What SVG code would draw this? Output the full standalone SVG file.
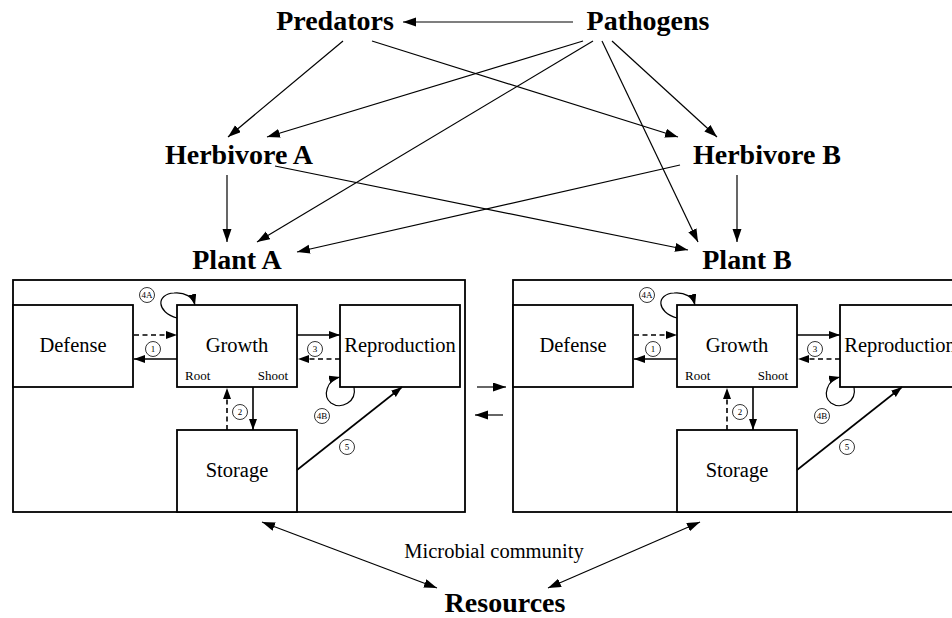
<svg xmlns="http://www.w3.org/2000/svg" width="952" height="618" viewBox="0 0 952 618">
<style>
.big{font-family:"Liberation Serif","Times New Roman",serif;font-weight:bold;font-size:28px;fill:#000;text-anchor:middle}
.lbl{font-family:"Liberation Serif","Times New Roman",serif;font-size:20.5px;fill:#000;text-anchor:middle}
.sm{font-family:"Liberation Serif","Times New Roman",serif;font-size:13px;fill:#000}
.num{font-family:"Liberation Serif","Times New Roman",serif;font-size:9px;fill:#000;text-anchor:middle}
.box{fill:#fff;stroke:#000;stroke-width:1.8}
.outer{fill:#fff;stroke:#000;stroke-width:1.8}
.top{fill:none;stroke:#000;stroke-width:1.2;marker-end:url(#ah)}
.dbl{fill:none;stroke:#000;stroke-width:1.2;marker-end:url(#ah);marker-start:url(#ah)}
.sol{fill:none;stroke:#000;stroke-width:1.6;marker-end:url(#as)}
.dash{fill:none;stroke:#000;stroke-width:1.6;stroke-dasharray:5,3.5;marker-end:url(#as)}
.cur{fill:none;stroke:#000;stroke-width:1.2;marker-end:url(#as)}
.circ{fill:#fff;stroke:#000;stroke-width:0.8}
</style>
<defs>
<marker id="ah" markerUnits="userSpaceOnUse" markerWidth="14" markerHeight="10" refX="13" refY="4.5" orient="auto-start-reverse" viewBox="0 0 14 10">
<path d="M0,0 L13,4.5 L0,9 z" fill="#000"/>
</marker>
<marker id="as" markerUnits="userSpaceOnUse" markerWidth="12" markerHeight="9" refX="11" refY="4" orient="auto-start-reverse" viewBox="0 0 12 9">
<path d="M0,0 L11,4 L0,8 z" fill="#000"/>
</marker>
</defs>
<rect width="952" height="618" fill="#fff"/>

<g id="connectors">
<line class="top" x1="573" y1="22" x2="403" y2="22"/>
<line class="top" x1="343" y1="41" x2="228" y2="137"/>
<line class="top" x1="372" y1="41" x2="678" y2="137"/>
<line class="top" x1="583" y1="41" x2="267" y2="137"/>
<line class="top" x1="593" y1="41" x2="257" y2="242"/>
<line class="top" x1="602" y1="41" x2="698" y2="242"/>
<line class="top" x1="612" y1="41" x2="717" y2="137"/>
<line class="top" x1="227" y1="175" x2="227" y2="242"/>
<line class="top" x1="275" y1="166" x2="688" y2="250"/>
<line class="top" x1="680" y1="165" x2="297" y2="252"/>
<line class="top" x1="737" y1="175" x2="737" y2="242"/>
<line class="dbl" x1="262" y1="522" x2="437" y2="588"/>
<line class="dbl" x1="548" y1="588" x2="700" y2="522"/>
<line class="top" x1="477" y1="387" x2="506" y2="387"/>
<line class="top" x1="503" y1="415" x2="475" y2="415"/>
</g>

<g id="predators"><text class="big" x="335" y="30">Predators</text></g>
<g id="pathogens"><text class="big" x="648" y="30">Pathogens</text></g>
<g id="herbivore-a"><text class="big" x="239" y="164">Herbivore A</text></g>
<g id="herbivore-b"><text class="big" x="767" y="164">Herbivore B</text></g>
<g id="plant-a-title"><text class="big" x="237" y="269">Plant A</text></g>
<g id="plant-b-title"><text class="big" x="747" y="269">Plant B</text></g>
<g id="resources"><text class="big" x="505" y="612">Resources</text></g>
<g id="microbial"><text class="lbl" x="494" y="558">Microbial community</text></g>

<g id="plant-a">
<rect class="outer" x="13" y="280" width="452" height="232"/>
<g id="defense-a"><rect class="box" x="13" y="305" width="120" height="82"/><text class="lbl" x="73" y="352">Defense</text></g>
<g id="growth-a"><rect class="box" x="177" y="305" width="120" height="82"/><text class="lbl" x="237" y="352">Growth</text><text class="sm" x="185" y="380">Root</text><text class="sm" x="288" y="380" text-anchor="end">Shoot</text></g>
<g id="reproduction-a"><rect class="box" x="340" y="305" width="120" height="82"/><text class="lbl" x="400" y="352">Reproduction</text></g>
<g id="storage-a"><rect class="box" x="177" y="430" width="120" height="82"/><text class="lbl" x="237" y="477">Storage</text></g>
<g id="links-a">
<line class="dash" x1="134" y1="335" x2="177" y2="335"/>
<line class="sol" x1="177" y1="359" x2="134" y2="359"/>
<line class="sol" x1="297" y1="335" x2="340" y2="335"/>
<line class="dash" x1="340" y1="359" x2="298" y2="359"/>
<line class="dash" x1="227" y1="430" x2="227" y2="388"/>
<line class="sol" x1="253" y1="387" x2="253" y2="430"/>
<line class="sol" x1="297" y1="470" x2="402" y2="387"/>
<path class="cur" d="M177,318 C156,312 156,294 174,293 C185,292 193,297 195,305"/>
<path class="cur" d="M354,387 C357,402 341,410 331,403 C322,396 327,380 340,377"/>
<circle class="circ" cx="153" cy="349" r="7.5"/><text class="num" x="153" y="352">1</text>
<circle class="circ" cx="240" cy="412" r="7.5"/><text class="num" x="240" y="415">2</text>
<circle class="circ" cx="315" cy="349" r="7.5"/><text class="num" x="315" y="352">3</text>
<circle class="circ" cx="147" cy="295" r="7.5"/><text class="num" x="147" y="298" font-size="8">4A</text>
<circle class="circ" cx="322" cy="416" r="7.5"/><text class="num" x="322" y="419" font-size="8">4B</text>
<circle class="circ" cx="347" cy="447" r="7.5"/><text class="num" x="347" y="450">5</text>
</g>
</g>

<g id="plant-b" transform="translate(500,0)">
<rect class="outer" x="13" y="280" width="452" height="232"/>
<g id="defense-b"><rect class="box" x="13" y="305" width="120" height="82"/><text class="lbl" x="73" y="352">Defense</text></g>
<g id="growth-b"><rect class="box" x="177" y="305" width="120" height="82"/><text class="lbl" x="237" y="352">Growth</text><text class="sm" x="185" y="380">Root</text><text class="sm" x="288" y="380" text-anchor="end">Shoot</text></g>
<g id="reproduction-b"><rect class="box" x="340" y="305" width="120" height="82"/><text class="lbl" x="400" y="352">Reproduction</text></g>
<g id="storage-b"><rect class="box" x="177" y="430" width="120" height="82"/><text class="lbl" x="237" y="477">Storage</text></g>
<g id="links-b">
<line class="dash" x1="134" y1="335" x2="177" y2="335"/>
<line class="sol" x1="177" y1="359" x2="134" y2="359"/>
<line class="sol" x1="297" y1="335" x2="340" y2="335"/>
<line class="dash" x1="340" y1="359" x2="298" y2="359"/>
<line class="dash" x1="227" y1="430" x2="227" y2="388"/>
<line class="sol" x1="253" y1="387" x2="253" y2="430"/>
<line class="sol" x1="297" y1="470" x2="402" y2="387"/>
<path class="cur" d="M177,318 C156,312 156,294 174,293 C185,292 193,297 195,305"/>
<path class="cur" d="M354,387 C357,402 341,410 331,403 C322,396 327,380 340,377"/>
<circle class="circ" cx="153" cy="349" r="7.5"/><text class="num" x="153" y="352">1</text>
<circle class="circ" cx="240" cy="412" r="7.5"/><text class="num" x="240" y="415">2</text>
<circle class="circ" cx="315" cy="349" r="7.5"/><text class="num" x="315" y="352">3</text>
<circle class="circ" cx="147" cy="295" r="7.5"/><text class="num" x="147" y="298" font-size="8">4A</text>
<circle class="circ" cx="322" cy="416" r="7.5"/><text class="num" x="322" y="419" font-size="8">4B</text>
<circle class="circ" cx="347" cy="447" r="7.5"/><text class="num" x="347" y="450">5</text>
</g>
</g>
</svg>
